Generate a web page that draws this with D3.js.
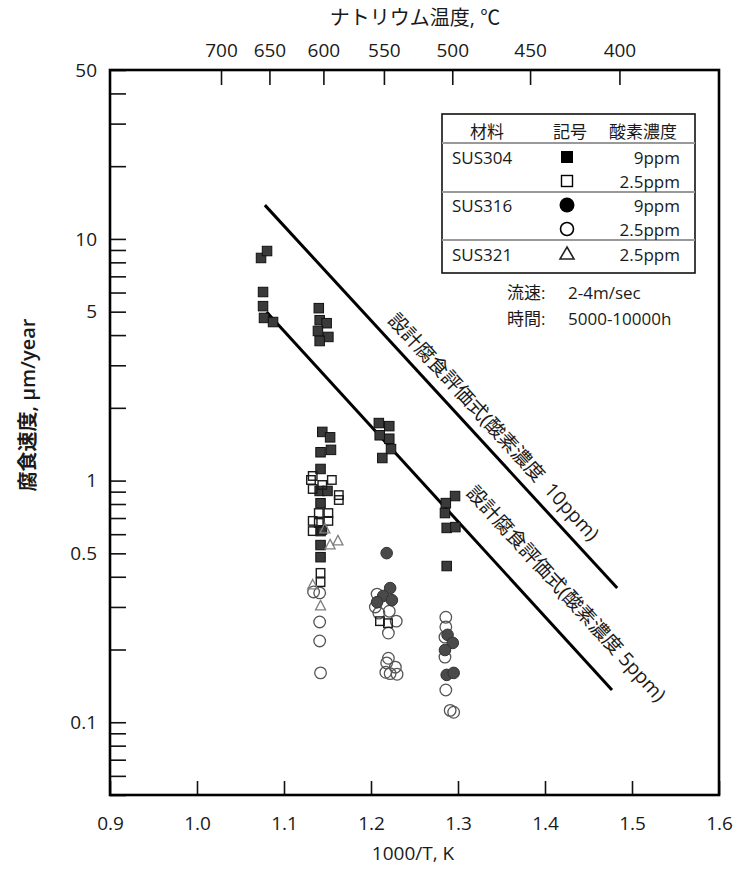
<!DOCTYPE html>
<html><head><meta charset="utf-8">
<script src="https://cdn.jsdelivr.net/npm/d3@7"></script>
<style>
body{margin:0;background:#fff;}
text{font-family:"Open Sans","Noto Sans CJK JP",sans-serif;fill:#1a1a1a;}
</style></head>
<body>
<svg id="c" width="756" height="869"></svg>
<script>
// ---- data (x = 1000/T, y = corrosion rate µm/year) ----
const sus304_9 = [
 [1.0736,8.34],[1.0805,8.91],[1.0759,6.03],[1.0759,5.27],[1.077,4.71],[1.0874,4.53],
 [1.140,5.17],[1.141,4.61],[1.149,4.48],[1.139,4.16],[1.151,3.93],[1.141,3.78],
 [1.144,1.59],[1.153,1.51],[1.142,1.31],[1.154,1.34],[1.142,1.117],[1.141,0.906],
 [1.150,0.906],[1.142,0.806],[1.142,0.618],[1.142,0.541],[1.142,0.482],
 [1.209,1.73],[1.221,1.68],[1.210,1.54],[1.221,1.49],[1.223,1.35],[1.213,1.24],
 [1.2966,0.863],[1.286,0.807],[1.285,0.734],[1.287,0.637],[1.297,0.642],[1.287,0.443]
];
const sus304_25 = [
 [1.133,1.045],[1.131,1.006],[1.155,1.006],[1.144,0.959],[1.133,0.923],[1.163,0.871],
 [1.163,0.831],[1.140,0.734],[1.151,0.734],[1.151,0.681],[1.133,0.681],[1.140,0.668],
 [1.133,0.618],[1.144,0.625],[1.142,0.415],[1.142,0.380],
 [1.2103,0.262],[1.2195,0.257]
];
const sus316_9 = [
 [1.218,0.501],[1.222,0.359],[1.214,0.333],[1.207,0.314],[1.224,0.320],
 [1.288,0.230],[1.294,0.213],[1.285,0.199],[1.287,0.157],[1.295,0.160]
];
const sus316_25 = [
 [1.134,0.346],[1.141,0.343],[1.141,0.260],[1.141,0.217],[1.142,0.160],
 [1.207,0.339],[1.205,0.300],[1.209,0.283],[1.221,0.288],[1.229,0.262],[1.220,0.234],
 [1.220,0.184],[1.218,0.176],[1.228,0.169],[1.217,0.161],[1.230,0.158],[1.222,0.159],
 [1.286,0.272],[1.286,0.248],[1.285,0.225],[1.285,0.186],[1.286,0.136],[1.291,0.112],[1.295,0.110]
];
const sus321_25 = [
 [1.147,0.631],[1.153,0.542],[1.162,0.563],[1.133,0.370],[1.142,0.303]
];
// design equations (end points)
const line10ppm = [[1.078,13.8],[1.483,0.359]];
const line5ppm  = [[1.080,4.98],[1.477,0.136]];
const line10Label = "設計腐食評価式(酸素濃度\u00a0\u00a010ppm)";
const line5Label  = "設計腐食評価式(酸素濃度\u00a05ppm)";

const xTicks = [0.9,1.0,1.1,1.2,1.3,1.4,1.5,1.6];
const yTickLabels = [0.1,0.5,1,5,10,50];
const tempTicks = [700,650,600,550,500,450,400];

const legendHeader = ["材料","記号","酸素濃度"];
const legendRows = [
 {mat:"SUS304", sym:"fsq", conc:"9ppm"},
 {mat:"",       sym:"osq", conc:"2.5ppm"},
 {mat:"SUS316", sym:"fci", conc:"9ppm"},
 {mat:"",       sym:"oci", conc:"2.5ppm"},
 {mat:"SUS321", sym:"otr", conc:"2.5ppm"}
];
const notes = [["流速:","2-4m/sec"],["時間:","5000-10000h"]];

// ---- layout ----
const L=110,R=719,T=70,B=795;
const svg=d3.select("#c");
const x=d3.scaleLinear().domain([0.9,1.6]).range([L,R]);
const y=d3.scaleLog().domain([0.05,50]).range([B,T]);

// axes
const fs=19;
const gx=svg.append("g").attr("transform",`translate(0,${B})`)
 .call(d3.axisBottom(x).tickValues(xTicks).tickFormat(d3.format(".1f")).tickSizeInner(-14).tickSizeOuter(0).tickPadding(22));
const gy=svg.append("g").attr("transform",`translate(${L},0)`)
 .call(d3.axisLeft(y).tickValues(y.ticks()).tickFormat(d=>yTickLabels.some(v=>Math.abs(v-d)<1e-9)?String(d):"").tickSizeInner(-16).tickSizeOuter(0).tickPadding(13));
const gt=svg.append("g").attr("transform",`translate(0,${T})`)
 .call(d3.axisTop(x).tickValues(tempTicks.map(t=>1000/(t+273.15))).tickFormat((d,i)=>tempTicks[i]).tickSizeInner(-15).tickSizeOuter(0).tickPadding(13));
[gx,gy,gt].forEach(g=>{
  g.select(".domain").remove();
  g.selectAll(".tick line").attr("stroke","#111").attr("stroke-width",1.6);
  g.selectAll(".tick text").attr("font-size",fs).style("font-family","'Open Sans',sans-serif").attr("fill","#1a1a1a");
});
// frame
svg.append("rect").attr("x",L).attr("y",T).attr("width",R-L).attr("height",B-T)
 .attr("fill","none").attr("stroke","#000").attr("stroke-width",2.6);

// titles
svg.append("text").attr("x",415).attr("y",25).attr("text-anchor","middle").attr("font-size",20).text("ナトリウム温度, ℃");
svg.append("text").attr("x",413).attr("y",853).attr("text-anchor","middle").attr("dominant-baseline","central").attr("font-size",19).text("1000/T, K");
svg.append("text").attr("transform","translate(35,405) rotate(-90)").attr("text-anchor","middle").attr("font-size",20).attr("font-weight",600).text("腐食速度, μm/year");

// design lines + labels
function drawLine(pts,label,along,off){
  const p0=[x(pts[0][0]),y(pts[0][1])], p1=[x(pts[1][0]),y(pts[1][1])];
  svg.append("line").attr("x1",p0[0]).attr("y1",p0[1]).attr("x2",p1[0]).attr("y2",p1[1])
    .attr("stroke","#000").attr("stroke-width",3);
  const ang=Math.atan2(p1[1]-p0[1],p1[0]-p0[0])*180/Math.PI;
  svg.append("text").attr("transform",`translate(${p0[0]},${p0[1]}) rotate(${ang})`)
    .attr("x",along).attr("y",-off).attr("dominant-baseline","central").attr("font-size",19.5)
    .style("white-space","pre").text(label);
}
drawLine(line10ppm,line10Label,168,19);
drawLine(line5ppm,line5Label,268,32);

// markers
const sq=(g,data,size,fill,stroke,sw)=>g.selectAll(null).data(data).enter().append("rect")
  .attr("x",d=>x(d[0])-size/2).attr("y",d=>y(d[1])-size/2).attr("width",size).attr("height",size)
  .attr("fill",fill).attr("stroke",stroke).attr("stroke-width",sw);
const ci=(g,data,r,fill,stroke,sw)=>g.selectAll(null).data(data).enter().append("circle")
  .attr("cx",d=>x(d[0])).attr("cy",d=>y(d[1])).attr("r",r)
  .attr("fill",fill).attr("stroke",stroke).attr("stroke-width",sw);
const tri=(g,data,s,stroke,sw)=>g.selectAll(null).data(data).enter().append("path")
  .attr("d",d=>{const cx=x(d[0]),cy=y(d[1]);return `M${cx},${cy-s*0.55}L${cx+s/2},${cy+s*0.4}L${cx-s/2},${cy+s*0.4}Z`;})
  .attr("fill","none").attr("stroke",stroke).attr("stroke-width",sw);
const gm=svg.append("g");
ci(gm,sus316_25,5.8,"none","#555",1.3);
ci(gm,sus316_9,5.8,"#4a4a4a","#333",1);
sq(gm,sus304_9,9.5,"#3a3a3a","#111",1);
sq(gm,sus304_25,8.5,"none","#1a1a1a",1.4);
tri(gm,sus321_25,10,"#808080",1.3);

// legend
const lg=svg.append("g");
const lx0=442,lx1=695,ly0=114,ly1=273;
lg.append("rect").attr("x",lx0).attr("y",ly0).attr("width",lx1-lx0).attr("height",ly1-ly0)
 .attr("fill","#fff").attr("stroke","#111").attr("stroke-width",1.6);
[143,192,240].forEach(yy=>lg.append("line").attr("x1",lx0).attr("x2",lx1).attr("y1",yy).attr("y2",yy).attr("stroke","#999").attr("stroke-width",2));
const hx=[487,570,643];
legendHeader.forEach((h,i)=>lg.append("text").attr("x",hx[i]).attr("y",131).attr("dominant-baseline","central").attr("text-anchor","middle").attr("font-size",17).text(h));
const rowY=[157,181,205,229,254];
legendRows.forEach((r,i)=>{
  const yy=rowY[i];
  if(r.mat) lg.append("text").attr("x",452).attr("y",yy).attr("dominant-baseline","central").attr("font-size",17).text(r.mat);
  lg.append("text").attr("x",680).attr("y",yy).attr("dominant-baseline","central").attr("text-anchor","end").attr("font-size",17).text(r.conc);
  const mx=567;
  if(r.sym==="fsq") lg.append("rect").attr("x",mx-6).attr("y",yy-6).attr("width",12).attr("height",12).attr("fill","#000");
  if(r.sym==="osq") lg.append("rect").attr("x",mx-5.5).attr("y",yy-5.5).attr("width",11).attr("height",11).attr("fill","none").attr("stroke","#000").attr("stroke-width",1.4);
  if(r.sym==="fci") lg.append("circle").attr("cx",mx).attr("cy",yy).attr("r",7.5).attr("fill","#000");
  if(r.sym==="oci") lg.append("circle").attr("cx",mx).attr("cy",yy).attr("r",6.5).attr("fill","none").attr("stroke","#000").attr("stroke-width",1.6);
  if(r.sym==="otr") lg.append("path").attr("d",`M${mx},${yy-7}L${mx+7},${yy+5}L${mx-7},${yy+5}Z`).attr("fill","none").attr("stroke","#222").attr("stroke-width",1.6);
});
notes.forEach((n,i)=>{
  const yy=292+i*26;
  svg.append("text").attr("x",507).attr("y",yy).attr("dominant-baseline","central").attr("font-size",17).text(n[0]);
  svg.append("text").attr("x",568).attr("y",yy).attr("dominant-baseline","central").attr("font-size",17).text(n[1]);
});
</script>
</body></html>
